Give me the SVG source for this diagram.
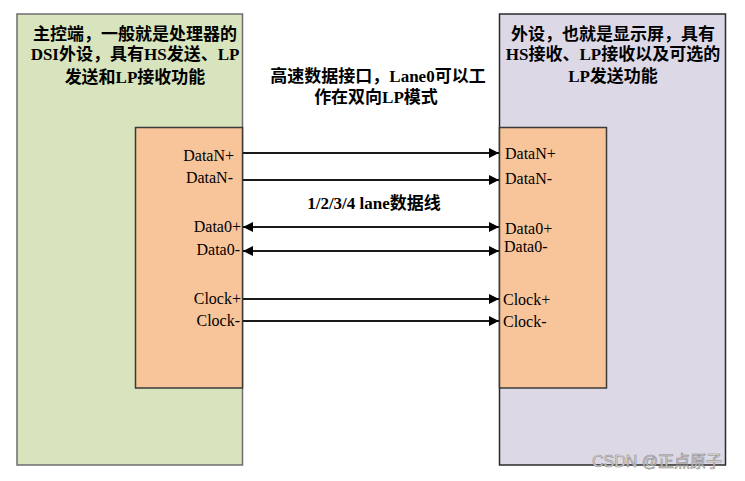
<svg xmlns="http://www.w3.org/2000/svg" width="745" height="481" viewBox="0 0 745 481">
<style>
.title{font-family:"Liberation Serif","Noto Sans CJK SC",serif;font-size:17px;font-weight:bold;fill:#000;text-anchor:middle}
.lbl{font-family:"Liberation Serif","Noto Sans CJK SC",serif;font-size:16px;fill:#000}
.lblr{text-anchor:end}
.wire{stroke:#1a1a1a;stroke-width:2;fill:none}
.wm{font-family:"Liberation Sans","Noto Sans CJK SC",sans-serif;font-size:16px;fill:#e6e6e6;stroke:#8a8a8a;stroke-width:0.6}
</style>
<defs>
<marker id="ah" viewBox="0 0 10 10" refX="10" refY="5" markerWidth="10" markerHeight="10" markerUnits="userSpaceOnUse" orient="auto-start-reverse">
<path d="M0,0 L10,5 L0,10 z" fill="#000"/>
</marker>
</defs>
<rect width="745" height="481" fill="#fff"/>
<g id="host">
<rect x="17" y="14" width="225.5" height="451" fill="#d8e4bd" stroke="#6e6e6e" stroke-width="1.5"/>
<text class="title" x="135" y="40">主控端，一般就是处理器的</text>
<text class="title" x="135" y="60">DSI外设，具有HS发送、LP</text>
<text class="title" x="135" y="83">发送和LP接收功能</text>
</g>
<g id="host-port">
<rect x="135.5" y="127.5" width="107" height="260.5" fill="#f8c59b" stroke="#3a3a3a" stroke-width="1.5"/>
<text class="lbl lblr" x="234" y="161">DataN+</text>
<text class="lbl lblr" x="233" y="183">DataN-</text>
<text class="lbl lblr" x="241" y="232">Data0+</text>
<text class="lbl lblr" x="240" y="255">Data0-</text>
<text class="lbl lblr" x="241" y="304">Clock+</text>
<text class="lbl lblr" x="240" y="326">Clock-</text>
</g>
<g id="device">
<rect x="499.5" y="14" width="226" height="451" fill="#ddd8e6" stroke="#2a2a2a" stroke-width="1.5"/>
<text class="title" x="613" y="40">外设，也就是显示屏，具有</text>
<text class="title" x="613" y="60">HS接收、LP接收以及可选的</text>
<text class="title" x="613" y="82">LP发送功能</text>
</g>
<g id="device-port">
<rect x="499.5" y="127.5" width="107" height="260.5" fill="#f8c59b" stroke="#3a3a3a" stroke-width="1.5"/>
<text class="lbl" x="505" y="159">DataN+</text>
<text class="lbl" x="505" y="184">DataN-</text>
<text class="lbl" x="505" y="234">Data0+</text>
<text class="lbl" x="504" y="252">Data0-</text>
<text class="lbl" x="503" y="305">Clock+</text>
<text class="lbl" x="503" y="327">Clock-</text>
</g>
<g id="notes">
<text class="title" x="378" y="82">高速数据接口，Lane0可以工</text>
<text class="title" x="376" y="103">作在双向LP模式</text>
<text class="title" x="374" y="209">1/2/3/4 lane数据线</text>
</g>
<g id="connectors">
<line class="wire" x1="243" y1="153" x2="499" y2="153" marker-end="url(#ah)"/>
<line class="wire" x1="243" y1="180" x2="499" y2="180" marker-end="url(#ah)"/>
<line class="wire" x1="243" y1="227" x2="499" y2="227" marker-start="url(#ah)" marker-end="url(#ah)"/>
<line class="wire" x1="243" y1="251" x2="499" y2="251" marker-start="url(#ah)" marker-end="url(#ah)"/>
<line class="wire" x1="243" y1="299" x2="499" y2="299" marker-end="url(#ah)"/>
<line class="wire" x1="243" y1="321" x2="499" y2="321" marker-end="url(#ah)"/>
</g>
<text class="wm" x="592" y="467">CSDN @正点原子</text>
</svg>
